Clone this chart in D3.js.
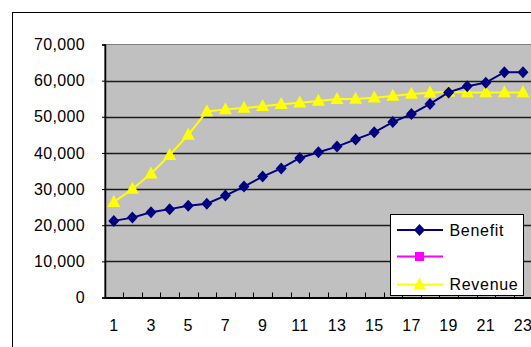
<!DOCTYPE html>
<html>
<head>
<meta charset="utf-8">
<script src="https://cdn.jsdelivr.net/npm/d3@7"></script>
<style>
  html, body { margin: 0; padding: 0; background: #fff; }
  svg { display: block; }
  text { font-family: "Liberation Sans", Arial, sans-serif; fill: #000; }
</style>
</head>
<body>
<svg id="chart" width="531" height="347"></svg>
<script>
// Periods 1..23
const periods = d3.range(1, 24);
const benefit = [21200, 22100, 23600, 24450, 25400, 25950, 28200, 30700, 33450, 35700,
                 38600, 40200, 41750, 43750, 45700, 48550, 50750, 53550, 56750, 58450,
                 59450, 62350, 62350];
const revenue = [26400, 30000, 34250, 39400, 45000, 51450, 52050, 52450, 52900, 53450,
                 53900, 54400, 54900, 54950, 55300, 55750, 56300, 56650, 56900, 56750,
                 56750, 56750, 56750];
const yTicks = [0, 10000, 20000, 30000, 40000, 50000, 60000, 70000];
const xTickLabels = periods.filter(p => p % 2 === 1);
const seriesNames = ["Benefit", "", "Revenue"];
const seriesColors = ["#000080", "#FF00FF", "#FFFF00"];

const svg = d3.select("#chart");
const plot = { left: 104.5, top: 44.5, bottom: 297.5, step: 18.6 };

const x = d3.scaleBand()
  .domain(periods)
  .range([plot.left, plot.left + periods.length * plot.step])
  .paddingInner(0).paddingOuter(0);
const y = d3.scaleLinear().domain([0, 70000]).range([plot.bottom, plot.top]);
const cx = d => x(d) + x.bandwidth() / 2;

// outer chart frame
svg.append("rect")
  .attr("x", 12.5).attr("y", 12.5).attr("width", 560).attr("height", 360)
  .attr("fill", "#fff").attr("stroke", "#000").attr("stroke-width", 1);

// plot area
svg.append("rect")
  .attr("x", plot.left).attr("y", plot.top)
  .attr("width", 560).attr("height", plot.bottom - plot.top)
  .attr("fill", "#C0C0C0").attr("stroke", "#808080").attr("stroke-width", 1);

// horizontal gridlines
svg.append("g").selectAll("line").data(yTicks.filter(v => v > 0 && v < 70000)).join("line")
  .attr("x1", plot.left).attr("x2", 560)
  .attr("y1", d => Math.round(y(d)) + 0.5).attr("y2", d => Math.round(y(d)) + 0.5)
  .attr("stroke", "#1a1a1a").attr("stroke-width", 1.3);

// y axis
const yAxis = d3.axisLeft(y).tickValues(yTicks).tickSize(3).tickPadding(17)
  .tickFormat(d3.format(","));
const gy = svg.append("g").attr("transform", `translate(${plot.left + 0.5},0)`).call(yAxis);
gy.select(".domain").attr("stroke", "#000").attr("stroke-width", 1.5);
gy.selectAll(".tick line").attr("stroke", "#000");
gy.selectAll(".tick text")
  .attr("font-family", "'Liberation Sans', Arial, sans-serif")
  .attr("font-size", 16).attr("letter-spacing", "0.35px").attr("fill", "#000");

// x axis: ticks at category boundaries, pointing inward
const xBounds = d3.range(0, periods.length + 1).map(i => plot.left + i * plot.step);
svg.append("line")
  .attr("x1", plot.left).attr("x2", 560)
  .attr("y1", plot.bottom + 0.5).attr("y2", plot.bottom + 0.5)
  .attr("stroke", "#000").attr("stroke-width", 2);
svg.append("g").selectAll("line").data(xBounds.slice(1)).join("line")
  .attr("x1", d => Math.round(d) + 0.5).attr("x2", d => Math.round(d) + 0.5)
  .attr("y1", plot.bottom).attr("y2", plot.bottom - 5)
  .attr("stroke", "#000").attr("stroke-width", 1);
svg.append("g").selectAll("text").data(xTickLabels).join("text")
  .attr("x", d => cx(d)).attr("y", 331)
  .attr("text-anchor", "middle")
  .attr("font-size", 16).attr("letter-spacing", "0.35px")
  .text(d => d);

// series
const line = d3.line().x((d, i) => cx(periods[i])).y(d => y(d));
const diamond = (w, h) => `M0,${-h}L${w},0L0,${h}L${-w},0Z`;
const triangle = (w, h) => `M0,${-h * 0.6}L${w},${h * 0.4}L${-w},${h * 0.4}Z`;
const square = s => `M${-s},${-s}H${s}V${s}H${-s}Z`;

svg.append("path").datum(revenue).attr("d", line)
  .attr("fill", "none").attr("stroke", seriesColors[2]).attr("stroke-width", 2);
svg.append("g").selectAll("path").data(revenue).join("path")
  .attr("transform", (d, i) => `translate(${cx(periods[i])},${y(d)})`)
  .attr("d", triangle(6.5, 12)).attr("fill", seriesColors[2]);

svg.append("path").datum(benefit).attr("d", line)
  .attr("fill", "none").attr("stroke", seriesColors[0]).attr("stroke-width", 2);
svg.append("g").selectAll("path").data(benefit).join("path")
  .attr("transform", (d, i) => `translate(${cx(periods[i])},${y(d)})`)
  .attr("d", diamond(5.5, 6)).attr("fill", seriesColors[0]);

// legend
const legend = svg.append("g");
legend.append("rect")
  .attr("x", 390.5).attr("y", 214.5).attr("width", 133).attr("height", 81)
  .attr("fill", "#fff").attr("stroke", "#000").attr("stroke-width", 1);
const legendY = [230, 256.5, 284.5];
const legendMarks = [diamond(5.5, 6), square(4.5), triangle(6, 12)];
seriesNames.forEach((name, i) => {
  const g = legend.append("g").attr("transform", `translate(0,${legendY[i]})`);
  g.append("line").attr("x1", 397).attr("x2", 443).attr("y1", 0).attr("y2", 0)
    .attr("stroke", seriesColors[i]).attr("stroke-width", 2);
  g.append("path").attr("transform", "translate(419.5,0)")
    .attr("d", legendMarks[i]).attr("fill", seriesColors[i]);
  g.append("text").attr("x", 449.5).attr("y", 0).attr("dy", "0.35em")
    .attr("font-size", 16).attr("letter-spacing", "0.7px").text(name);
});
</script>
</body>
</html>
